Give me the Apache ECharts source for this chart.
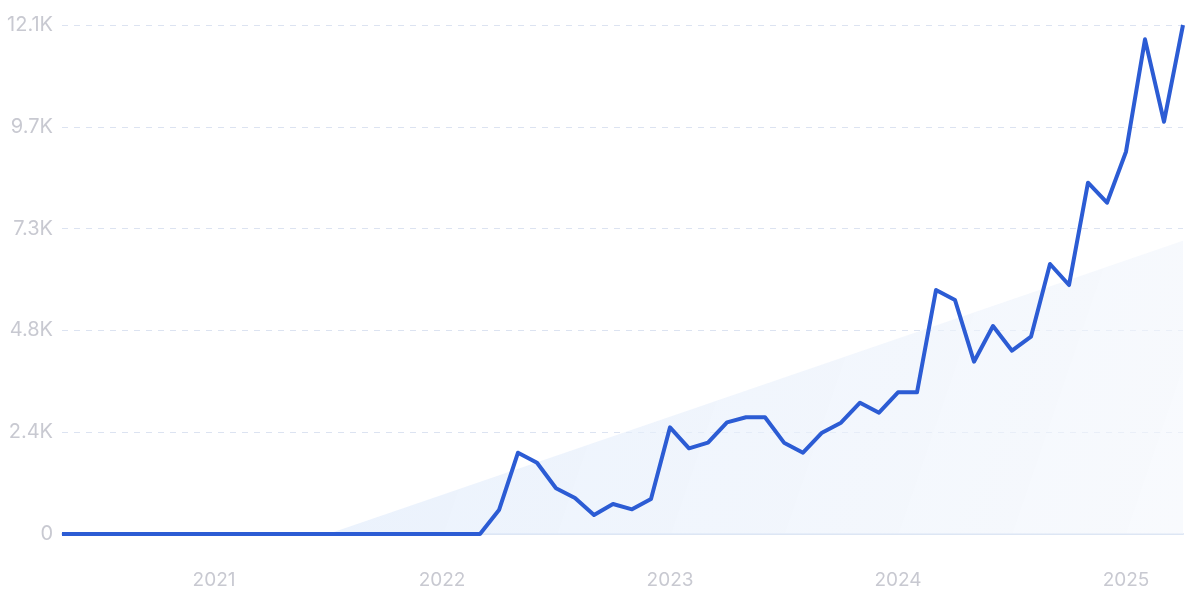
<!DOCTYPE html>
<html><head><meta charset="utf-8">
<script src="https://cdn.jsdelivr.net/npm/echarts@6/dist/echarts.min.js"></script>
<style>html,body{margin:0;padding:0;background:#fff}#c{width:1200px;height:599px}</style>
</head><body><div id="c"></div>
<script>
const months = [];
(function(){ let y=2020,m=5; for(let i=0;i<60;i++){ months.push(y+'-'+String(m).padStart(2,'0')); m++; if(m>12){m=1;y++;} } })();
const values = [0,0,0,0,0,0,0,0,0,0,0,0,0,0,0,0,0,0,0,0,0,0,0,
  570,1933,1695,1086,856,452,713,587,832,2536,2037,2171,2655,2774,2774,2171,1933,
  2408,2646,3121,2884,3368,3368,5800,5562,4096,4944,4358,4690,6418,5919,8351,7876,9088,11759,9801,12100];
// trend band: start and end points only
const trendStartIndex = 14, trendStartValue = 0, trendEndValue = 6970;
const trend = months.map((_,i)=> i===trendStartIndex ? trendStartValue : (i===months.length-1 ? trendEndValue : null));
const yTicks = [0,2420,4840,7260,9680,12100];

const chart = echarts.init(document.getElementById('c'));
chart.setOption({
  animation:false,
  grid:{left:62,right:17,top:25,bottom:65,containLabel:false},
  xAxis:{type:'category',data:months,boundaryGap:false,
    axisLine:{show:true,lineStyle:{color:'#dde6f4',width:2}},
    axisTick:{show:false},
    splitLine:{show:false},
    axisLabel:{interval:(i,v)=>v.endsWith('-01'),formatter:v=>v.slice(0,4),color:'#c8c9d1',fontSize:19,fontFamily:'Inter',margin:37}
  },
  yAxis:{type:'value',min:yTicks[0],max:yTicks[yTicks.length-1],interval:2420,
    axisLine:{show:false},axisTick:{show:false},
    splitLine:{show:true,lineStyle:{color:'#dce3f1',type:[6,6],width:1}},
    axisLabel:{color:'#c8c9d1',fontSize:20,fontFamily:'Inter',margin:9,
      formatter:v=> v===0 ? '0' : (v/1000).toFixed(1)+'K'}
  },
  series:[
    {type:'line',data:trend,connectNulls:true,showSymbol:false,symbol:'none',
     lineStyle:{width:0,opacity:0},z:1,
     areaStyle:{origin:'start',color:new echarts.graphic.LinearGradient(0,0,1,1,[
       {offset:0,color:'rgba(222,234,251,0.95)'},{offset:1,color:'rgba(244,247,252,0.9)'}])}},
    {type:'line',data:values,showSymbol:false,symbol:'none',z:3,
     lineStyle:{color:'#2c5cd4',width:4,join:'round'}}
  ]
});
</script></body></html>
